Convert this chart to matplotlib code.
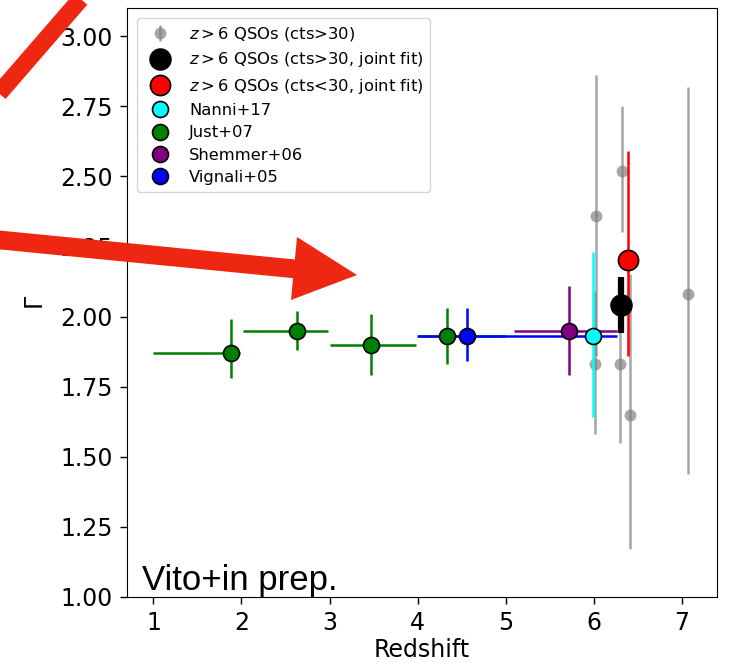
import matplotlib
matplotlib.use("Agg")
import matplotlib.pyplot as plt
from matplotlib.patches import Polygon
from matplotlib.lines import Line2D

# --- individual z>6 QSOs (cts>30) ---
qso_z = [6.03, 6.02, 6.30, 6.32, 6.41, 7.07]
qso_gamma = [2.36, 1.83, 1.83, 2.52, 1.65, 2.08]
qso_err_lo = [0.50, 0.25, 0.28, 0.22, 0.48, 0.64]
qso_err_hi = [0.50, 0.26, 0.28, 0.23, 0.50, 0.74]

# --- joint fits ---
joint_hi_z, joint_hi_gamma = 6.31, 2.04
joint_hi_err = (0.10, 0.10)
joint_lo_z, joint_lo_gamma = 6.39, 2.20
joint_lo_err = (0.34, 0.39)

# --- literature ---
nanni_z, nanni_gamma, nanni_err = 5.99, 1.93, (0.29, 0.30)

just_z = [1.88, 2.63, 3.47, 4.33]
just_gamma = [1.87, 1.95, 1.90, 1.93]
just_zlo = [0.88, 0.61, 0.47, 0.33]
just_zhi = [0.10, 0.35, 0.51, 0.67]
just_glo = [0.09, 0.07, 0.11, 0.10]
just_ghi = [0.12, 0.07, 0.11, 0.10]

shemmer_z, shemmer_gamma = 5.72, 1.95
shemmer_zerr = (0.62, 0.55)
shemmer_gerr = (0.16, 0.16)

vignali_z, vignali_gamma = 4.56, 1.93
vignali_zerr = (0.57, 1.71)
vignali_gerr = (0.09, 0.10)

labels = [r"$z>6$ QSOs (cts>30)", r"$z>6$ QSOs (cts>30, joint fit)",
          r"$z>6$ QSOs (cts<30, joint fit)", "Nanni+17", "Just+07",
          "Shemmer+06", "Vignali+05"]

W, H, DPI = 731, 663, 100
fig = plt.figure(figsize=(W / DPI, H / DPI), dpi=DPI)
ax = fig.add_axes([127 / W, 1 - 597 / H, 590 / W, 589 / H])

ms_small = 11.5
lw = 1.8

# gray individual sources
h_qso = ax.errorbar(qso_z, qso_gamma, yerr=[qso_err_lo, qso_err_hi], fmt="o",
                    color="gray", alpha=0.7, ms=8.5, elinewidth=lw,
                    capsize=0, mew=0, zorder=2)

# literature error bars
ax.errorbar(just_z, just_gamma, xerr=[just_zlo, just_zhi],
            yerr=[just_glo, just_ghi], fmt="none", ecolor="green",
            elinewidth=lw, capsize=0, zorder=3)
ax.errorbar([vignali_z], [vignali_gamma], xerr=[[vignali_zerr[0]], [vignali_zerr[1]]],
            yerr=[[vignali_gerr[0]], [vignali_gerr[1]]], fmt="none",
            ecolor="blue", elinewidth=lw, capsize=0, zorder=3)
ax.errorbar([shemmer_z], [shemmer_gamma], xerr=[[shemmer_zerr[0]], [shemmer_zerr[1]]],
            yerr=[[shemmer_gerr[0]], [shemmer_gerr[1]]], fmt="none",
            ecolor="purple", elinewidth=lw, capsize=0, zorder=3)
ax.errorbar([nanni_z], [nanni_gamma], yerr=[[nanni_err[0]], [nanni_err[1]]],
            fmt="none", ecolor="cyan", elinewidth=lw, capsize=0, zorder=3)
ax.errorbar([joint_lo_z], [joint_lo_gamma], yerr=[[joint_lo_err[0]], [joint_lo_err[1]]],
            fmt="none", ecolor="red", elinewidth=lw, capsize=0, zorder=3)
ax.errorbar([joint_hi_z], [joint_hi_gamma], yerr=[[joint_hi_err[0]], [joint_hi_err[1]]],
            fmt="none", ecolor="black", elinewidth=4.5, capsize=0, zorder=3)

# markers
mk = dict(ls="none", marker="o", mec="black", mew=1.2, zorder=4)
h_hi, = ax.plot([joint_hi_z], [joint_hi_gamma], color="black", ms=15, **mk)
h_lo, = ax.plot([joint_lo_z], [joint_lo_gamma], color="red", ms=14.5, **mk)
h_nanni, = ax.plot([nanni_z], [nanni_gamma], color="cyan", ms=ms_small, **mk)
h_just, = ax.plot(just_z, just_gamma, color="green", ms=ms_small, **mk)
h_shem, = ax.plot([shemmer_z], [shemmer_gamma], color="purple", ms=ms_small, **mk)
h_vign, = ax.plot([vignali_z], [vignali_gamma], color="blue", ms=ms_small, **mk)

ax.set_xlim(0.7, 7.4)
ax.set_ylim(1.0, 3.1)
ax.set_yticks([1.0, 1.25, 1.5, 1.75, 2.0, 2.25, 2.5, 2.75, 3.0])
ax.set_yticklabels([f"{v:.2f}" for v in ax.get_yticks()])
ax.set_xticks([1, 2, 3, 4, 5, 6, 7])
ax.tick_params(labelsize=17, length=5, width=1, pad=5)
ax.set_xlabel("Redshift", fontsize=17, labelpad=2)
ax.set_ylabel(r"$\Gamma$", fontsize=17, labelpad=9)

ax.legend([h_qso, h_hi, h_lo, h_nanni, h_just, h_shem, h_vign], labels,
          loc="upper left", fontsize=11.8, frameon=True,
          bbox_to_anchor=(0.0, 0.999), borderaxespad=0.6, labelspacing=0.45)

ax.text(0.025, 0.012, "Vito+in prep.", transform=ax.transAxes,
        fontsize=25, family="Liberation Sans", ha="left", va="baseline")

# red overlay arrows (figure pixel coordinates, y measured from top)
red = "#ee2712"
def px(pts):
    return [(x / W, 1 - y / H) for x, y in pts]

stripe = Line2D([-12 / W, 92 / W], [1 - 106 / H, 1 + 14 / H], transform=fig.transFigure,
                color=red, lw=12.5, solid_capstyle="butt", zorder=10)
fig.add_artist(stripe)
shaft = Line2D([-5 / W, 296 / W], [1 - 239.5 / H, 1 - 269 / H], transform=fig.transFigure,
               color=red, lw=13.5, solid_capstyle="butt", zorder=10)
fig.add_artist(shaft)
head = Polygon(px([(297, 237), (291, 300), (357, 275)]), closed=True,
               transform=fig.transFigure, facecolor=red, edgecolor="none", zorder=10)
fig.add_artist(head)

fig.savefig("out.png", dpi=DPI)
